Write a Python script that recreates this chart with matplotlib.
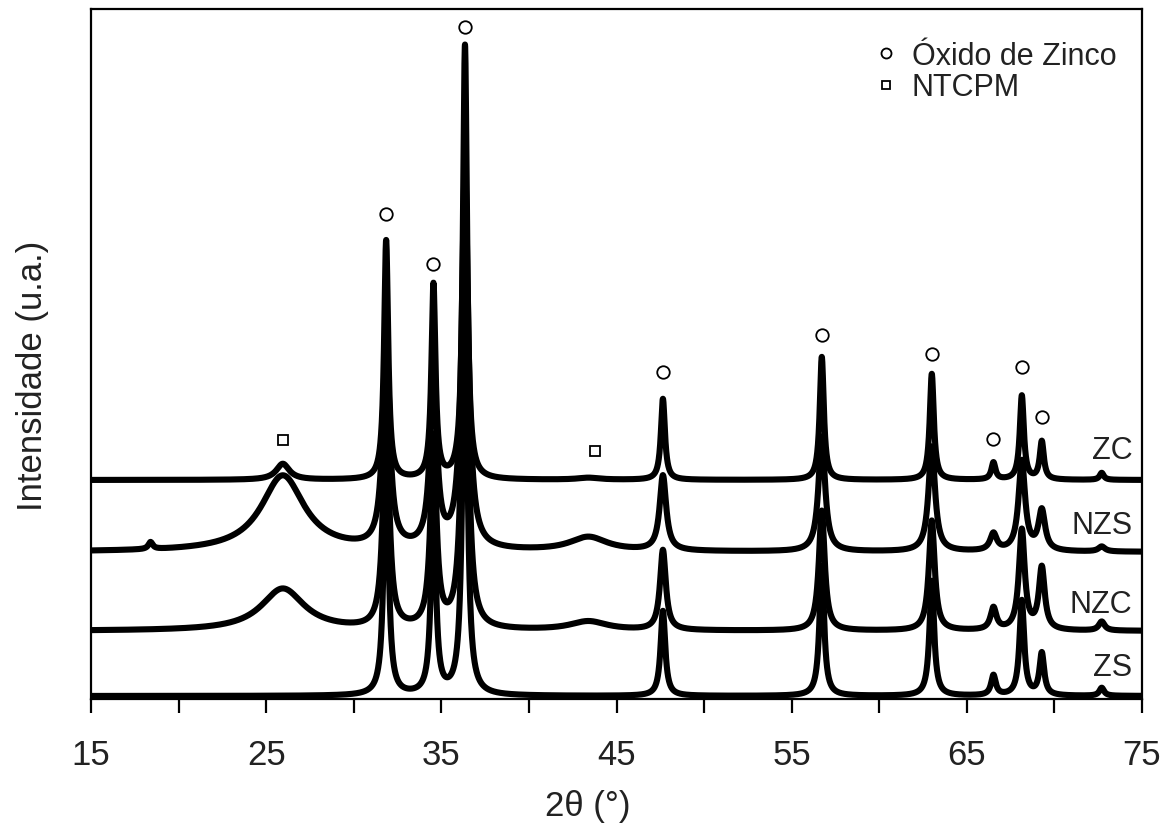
import numpy as np
import matplotlib
matplotlib.use('Agg')
import matplotlib.pyplot as plt

plt.rcParams['font.family'] = ['Liberation Sans', 'DejaVu Sans']

# peak tables (2theta, height, FWHM), one set per sample
zno_pos = [31.85, 34.55, 36.35, 47.65, 56.72, 63.0, 66.52, 68.14, 69.28, 72.7]

zc_h = [239, 194, 434, 81, 123, 106, 17, 84, 38, 7]
zc_w = 0.28
zs_h = [250, 200, 420, 85, 130, 115, 20, 95, 42, 8]
zs_w = 0.32
nzc_h = [230, 190, 400, 80, 120, 110, 22, 100, 62, 9]
nzc_w = 0.40
nzs_h = [220, 180, 380, 75, 115, 105, 17, 90, 40, 5]
nzs_w = 0.45

# carbon nanotube humps (pos, height, width)
ntc_pos = [18.4, 25.95, 43.4]
zc_ntc = [0, 16, 2]
zc_ntc_w = [0.3, 0.9, 1.5]
nzc_ntc = [0, 42, 9]
nzs_ntc = [7, 76, 14]
ntc_w = [0.3, 3.0, 2.6]

samples = ['ZS', 'NZC', 'NZS', 'ZC']
offsets = [0, 65, 144, 216]
label_y = [29, 92, 171, 246]

zno_mark_x = [31.85, 34.55, 36.35, 47.65, 56.72, 63.0, 66.5, 68.14, 69.3]
zno_mark_y = [482, 432, 669, 324, 361, 342, 257, 329, 279]
ntc_mark_x = [25.95, 43.8]
ntc_mark_y = [256, 245]


def pattern(x, pos, h, w, hpos, hh, hw):
    y = np.zeros_like(x)
    for p, a in zip(pos, h):
        y += a / (1 + (2 * (x - p) / w) ** 2)
    for p, a, ww in zip(hpos, hh, hw):
        y += a / (1 + (2 * (x - p) / ww) ** 2)
    return y


tt = np.arange(15, 75.001, 0.01)
curves = {
    'ZS': pattern(tt, zno_pos, zs_h, zs_w, ntc_pos, [0, 0, 0], ntc_w),
    'NZC': pattern(tt, zno_pos, nzc_h, nzc_w, ntc_pos, nzc_ntc, ntc_w),
    'NZS': pattern(tt, zno_pos, nzs_h, nzs_w, ntc_pos, nzs_ntc, ntc_w),
    'ZC': pattern(tt, zno_pos, zc_h, zc_w, ntc_pos, zc_ntc, zc_ntc_w),
}

fig = plt.figure(figsize=(11.65, 8.29), dpi=100)
ax = fig.add_axes([91 / 1165, 129 / 829, (1142 - 91) / 1165, 690 / 829])

for name, off in zip(samples, offsets):
    ax.plot(tt, curves[name] + off, color='black', lw=4.4, solid_joinstyle='round')

for name, ly in zip(samples, label_y):
    ax.text(74.45, ly, name, ha='right', va='center', fontsize=22, color='#222222')

ax.plot(zno_mark_x, zno_mark_y, 'o', ms=9, mfc='white', mec='black', mew=1.3,
        label='Óxido de Zinco')
ax.plot(ntc_mark_x, ntc_mark_y, 's', ms=7.5, mfc='white', mec='black', mew=1.3,
        label='NTCPM')

leg = ax.legend(loc='upper right', bbox_to_anchor=(0.996, 0.985), frameon=False,
                fontsize=22, handlelength=0.5, handletextpad=0.6, labelspacing=0.05,
                borderpad=0.2, markerscale=0.8)
for t in leg.get_texts():
    t.set_color('#222222')

ax.set_xlim(15, 75)
ax.set_ylim(-3, 687)
ax.set_xticks(np.arange(15, 76, 5))
ax.set_xticklabels([str(v) if v % 10 == 5 else '' for v in range(15, 76, 5)])
ax.set_yticks([])
ax.tick_params(axis='x', direction='out', length=10, width=1.6, labelsize=25,
               pad=18, labelcolor='#222222')
for s in ax.spines.values():
    s.set_linewidth(1.6)

ax.set_xlabel('2θ (°)', fontsize=25, color='#222222')
ax.xaxis.set_label_coords(0.473, -0.13)
ax.set_ylabel('Intensidade (u.a.)', fontsize=25, color='#222222')
ax.yaxis.set_label_coords(-0.04, 0.47)

fig.savefig('out.png', dpi=100)
